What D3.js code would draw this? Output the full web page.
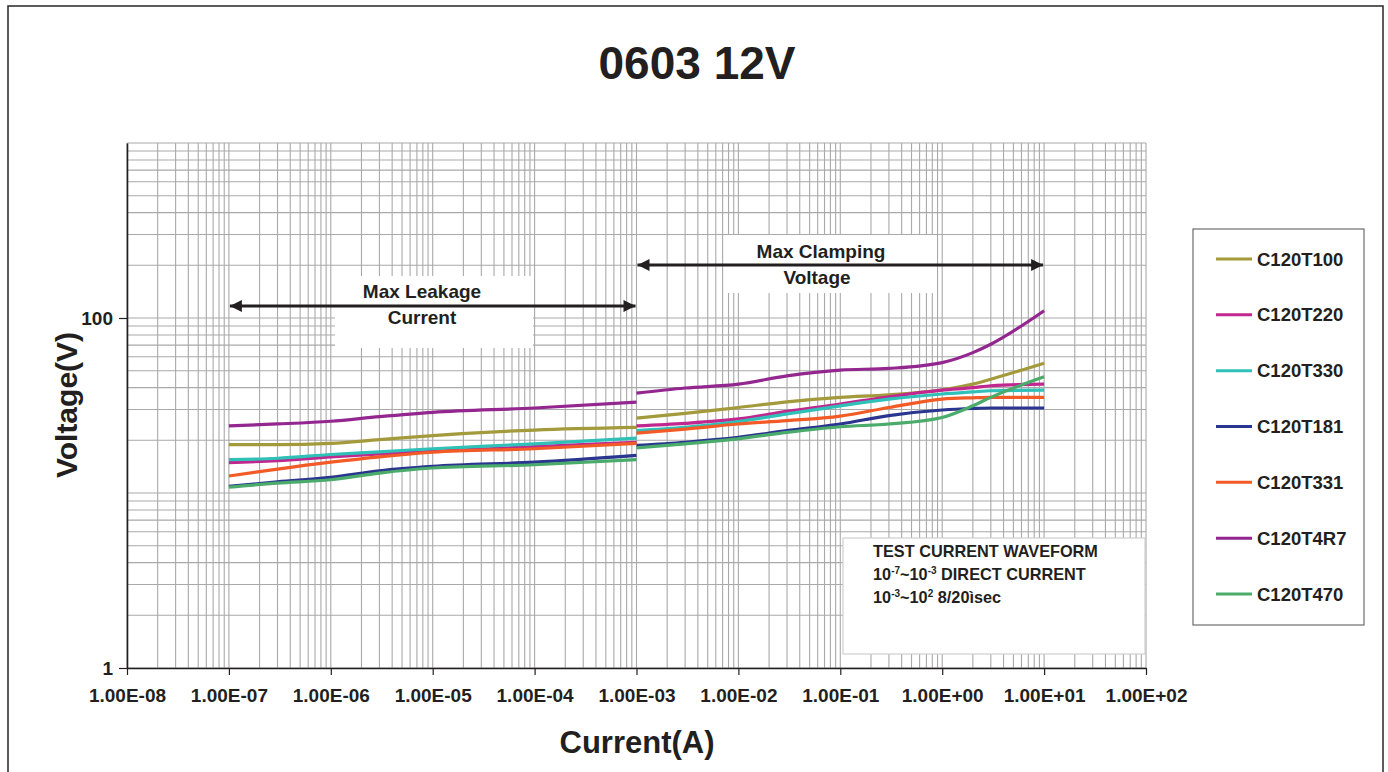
<!DOCTYPE html>
<html>
<head>
<meta charset="utf-8">
<script src="https://cdn.jsdelivr.net/npm/d3@7"></script>
<style>
  html, body { margin: 0; padding: 0; background: #fff; }
  svg { display: block; }
  text { font-family: 'Liberation Sans', Arial, Helvetica, sans-serif; font-weight: bold; fill: #231f20; }
</style>
</head>
<body>
<svg id="chart" width="1388" height="772"></svg>
<script>
// ---------------- DATA ----------------
const seriesNames = ["C120T100", "C120T220", "C120T330", "C120T181", "C120T331", "C120T4R7", "C120T470"];
const seriesColors = ["#a39a3b", "#c1288f", "#2fc0b7", "#29358f", "#f25b26", "#93278f", "#4aab6b"];

// Leakage region (DC test), current in A
const leakCurrent = [1e-7, 3e-7, 1e-6, 3e-6, 1e-5, 1e-4, 1e-3];
const leakT100 = [18.9, 18.9, 19.2, 20.2, 21.3, 22.9, 23.7];
const leakT220 = [14.9, 15.3, 16.1, 16.7, 17.3, 18.4, 19.5];
const leakT330 = [15.5, 15.8, 16.6, 17.2, 17.9, 19.1, 20.6];
const leakT181 = [10.9, 11.6, 12.3, 13.4, 14.2, 15.0, 16.4];
const leakT331 = [12.5, 13.7, 15.0, 16.1, 17.1, 17.9, 19.2];
const leakT4R7 = [24.2, 24.8, 25.7, 27.3, 28.9, 30.6, 33.1];
const leakT470 = [10.8, 11.4, 11.9, 13.0, 13.9, 14.5, 15.5];

// Clamping region (8/20us test), current in A
const clampCurrent = [1e-3, 3e-3, 1e-2, 3e-2, 1e-1, 3e-1, 1e0, 2e0, 3e0, 1e1];
const clampT100 = [26.8, 28.5, 30.8, 33.2, 35.2, 36.4, 38.9, 41.9, 44.7, 55.2];
const clampT220 = [24.2, 25.0, 26.5, 29.3, 32.2, 35.5, 38.7, 40.0, 41.0, 41.9];
const clampT330 = [22.7, 23.7, 25.6, 28.3, 31.5, 34.4, 36.8, 37.8, 38.4, 38.7];
const clampT181 = [18.7, 19.5, 20.8, 22.7, 24.8, 27.7, 29.8, 30.4, 30.6, 30.6];
const clampT331 = [22.0, 23.2, 24.8, 25.9, 27.5, 30.8, 34.4, 35.0, 35.2, 35.2];
const clampT4R7 = [37.2, 39.8, 41.9, 46.7, 50.4, 51.5, 55.6, 63.4, 70.8, 110];
const clampT470 = [18.1, 19.1, 20.4, 22.2, 23.9, 24.8, 27.0, 31.5, 35.2, 46.1];

const leakValues = [leakT100, leakT220, leakT330, leakT181, leakT331, leakT4R7, leakT470];
const clampValues = [clampT100, clampT220, clampT330, clampT181, clampT331, clampT4R7, clampT470];

// Axes
const xDomain = [1e-8, 1e2];
const yDomain = [1, 1000];
const xTickValues = [1e-8, 1e-7, 1e-6, 1e-5, 1e-4, 1e-3, 1e-2, 1e-1, 1e0, 1e1, 1e2];
const xTickLabels = ["1.00E-08", "1.00E-07", "1.00E-06", "1.00E-05", "1.00E-04", "1.00E-03",
                     "1.00E-02", "1.00E-01", "1.00E+00", "1.00E+01", "1.00E+02"];
const yTickValues = [1, 100];
const yTickLabels = ["1", "100"];
const yDecades = [1, 10, 100];

const titleText = "0603 12V";
const xTitle = "Current(A)";
const yTitle = "Voltage(V)";
const leakRange = [1e-7, 1e-3];
const clampRange = [1e-3, 1e1];

// ---------------- DRAW ----------------
const svg = d3.select("#chart");
const margin = { left: 127, right: 1146, top: 143, bottom: 668 };

const x = d3.scaleLog().domain(xDomain).range([margin.left, margin.right]);
const y = d3.scaleLog().domain(yDomain).range([margin.bottom, margin.top]);

// outer border
svg.append("rect").attr("x", 8).attr("y", 6).attr("width", 1375).attr("height", 800)
  .attr("fill", "#fff").attr("stroke", "#333").attr("stroke-width", 1.6);

// gridlines
const grid = svg.append("g").attr("stroke", "#a9a9a9").attr("stroke-width", 1.1);
const xGrid = [];
xTickValues.slice(0, -1).forEach(d => { for (let k = 1; k <= 9; k++) xGrid.push(d * k); });
xGrid.push(xTickValues[xTickValues.length - 1]);
const yGrid = [];
yDecades.forEach(d => { for (let k = 1; k <= 9; k++) yGrid.push(d * k); });
yGrid.push(1000);

grid.selectAll("line.v").data(xGrid).join("line").attr("class", "v")
  .attr("x1", d => x(d)).attr("x2", d => x(d))
  .attr("y1", margin.top).attr("y2", margin.bottom);
grid.selectAll("line.h").data(yGrid).join("line").attr("class", "h")
  .attr("x1", margin.left).attr("x2", margin.right)
  .attr("y1", d => y(d)).attr("y2", d => y(d));

// white annotation boxes (cover grid)
const boxes = svg.append("g");
boxes.append("rect").attr("x", 335).attr("y", 276).attr("width", 198).attr("height", 72).attr("fill", "#fff");
boxes.append("rect").attr("x", 727).attr("y", 235).attr("width", 206).attr("height", 58).attr("fill", "#fff");
boxes.append("rect").attr("x", 843).attr("y", 538).attr("width", 302).attr("height", 116)
  .attr("fill", "#fff").attr("stroke", "#cfcfcf").attr("stroke-width", 1.2);

// axes
const xAxis = d3.axisBottom(x).tickValues(xTickValues)
  .tickFormat((d, i) => xTickLabels[i]).tickSizeInner(7).tickSizeOuter(0).tickPadding(14);
const gx = svg.append("g").attr("transform", `translate(0,${margin.bottom})`).call(xAxis);
gx.select(".domain").attr("stroke", "#231f20").attr("stroke-width", 1.6);
gx.selectAll(".tick line").attr("stroke", "#231f20").attr("stroke-width", 1.2);
gx.selectAll(".tick text").attr("font-size", 19).attr("fill", "#231f20")
  .attr("font-family", "'Liberation Sans', Arial, sans-serif").attr("font-weight", "bold");

const yAxis = d3.axisLeft(y).tickValues(yTickValues)
  .tickFormat((d, i) => yTickLabels[i]).tickSizeInner(8).tickSizeOuter(0).tickPadding(6);
const gy = svg.append("g").attr("transform", `translate(${margin.left},0)`).call(yAxis);
gy.select(".domain").attr("stroke", "#231f20").attr("stroke-width", 1.6);
gy.selectAll(".tick line").attr("stroke", "#231f20").attr("stroke-width", 1.2);
gy.selectAll(".tick text").attr("font-size", 19).attr("fill", "#231f20")
  .attr("font-family", "'Liberation Sans', Arial, sans-serif").attr("font-weight", "bold");

// series lines
const line = d3.line().x(d => x(d[0])).y(d => y(d[1])).curve(d3.curveMonotoneX);
const lines = svg.append("g").attr("fill", "none").attr("stroke-width", 3.2).attr("stroke-linecap", "butt");
seriesNames.forEach((name, i) => {
  const leak = leakCurrent.map((c, j) => [c, leakValues[i][j]]);
  const clamp = clampCurrent.map((c, j) => [c, clampValues[i][j]]);
  lines.append("path").attr("d", line(leak)).attr("stroke", seriesColors[i]);
  lines.append("path").attr("d", line(clamp)).attr("stroke", seriesColors[i]);
});

// arrows
const defs = svg.append("defs");
defs.append("marker").attr("id", "ah").attr("viewBox", "0 0 10 10").attr("refX", 10).attr("refY", 5)
  .attr("markerWidth", 4.4).attr("markerHeight", 4).attr("markerUnits", "strokeWidth").attr("orient", "auto-start-reverse")
  .append("path").attr("d", "M0,0 L10,5 L0,10 Z").attr("fill", "#231f20");
svg.append("line").attr("x1", x(leakRange[0]) + 1).attr("x2", x(leakRange[1]) - 1).attr("y1", 306).attr("y2", 306)
  .attr("stroke", "#231f20").attr("stroke-width", 3).attr("marker-start", "url(#ah)").attr("marker-end", "url(#ah)");
svg.append("line").attr("x1", x(clampRange[0]) + 1).attr("x2", x(clampRange[1]) - 1).attr("y1", 265).attr("y2", 265)
  .attr("stroke", "#231f20").attr("stroke-width", 3).attr("marker-start", "url(#ah)").attr("marker-end", "url(#ah)");

// annotation texts
svg.append("text").attr("x", 422).attr("y", 298).attr("text-anchor", "middle").attr("font-size", 19).text("Max Leakage");
svg.append("text").attr("x", 422).attr("y", 324).attr("text-anchor", "middle").attr("font-size", 19).text("Current");
svg.append("text").attr("x", 821).attr("y", 258).attr("text-anchor", "middle").attr("font-size", 19).text("Max Clamping");
svg.append("text").attr("x", 817).attr("y", 284).attr("text-anchor", "middle").attr("font-size", 19).text("Voltage");

const fs = 16.3, fsSup = 10;
const tb = svg.append("g");
tb.append("text").attr("x", 873).attr("y", 557).attr("font-size", fs).text("TEST CURRENT WAVEFORM");
const t2 = tb.append("text").attr("x", 873).attr("y", 580).attr("font-size", fs);
t2.append("tspan").text("10");
t2.append("tspan").attr("font-size", fsSup).attr("dy", -6).text("-7");
t2.append("tspan").attr("dy", 6).text("~10");
t2.append("tspan").attr("font-size", fsSup).attr("dy", -6).text("-3");
t2.append("tspan").attr("dy", 6).text(" DIRECT CURRENT");
const t3 = tb.append("text").attr("x", 873).attr("y", 603).attr("font-size", fs);
t3.append("tspan").text("10");
t3.append("tspan").attr("font-size", fsSup).attr("dy", -6).text("-3");
t3.append("tspan").attr("dy", 6).text("~10");
t3.append("tspan").attr("font-size", fsSup).attr("dy", -6).text("2");
t3.append("tspan").attr("dy", 6).text(" 8/20ìsec");

// titles
svg.append("text").attr("x", 697).attr("y", 79).attr("text-anchor", "middle").attr("font-size", 46).text(titleText);
svg.append("text").attr("x", 637).attr("y", 753).attr("text-anchor", "middle").attr("font-size", 31).text(xTitle);
svg.append("text").attr("transform", "translate(77,405) rotate(-90)").attr("text-anchor", "middle").attr("font-size", 30).text(yTitle);

// legend
const lg = svg.append("g");
lg.append("rect").attr("x", 1193).attr("y", 229).attr("width", 171).attr("height", 396)
  .attr("fill", "#fff").attr("stroke", "#6d6d6d").attr("stroke-width", 1.2);
const legendY = d3.scalePoint().domain(seriesNames).range([259, 594]);
seriesNames.forEach((name, i) => {
  const yy = legendY(name);
  lg.append("line").attr("x1", 1216).attr("x2", 1252).attr("y1", yy).attr("y2", yy)
    .attr("stroke", seriesColors[i]).attr("stroke-width", 3);
  lg.append("text").attr("x", 1257).attr("y", yy + 6.5).attr("font-size", 18.5).text(name);
});
</script>
</body>
</html>
